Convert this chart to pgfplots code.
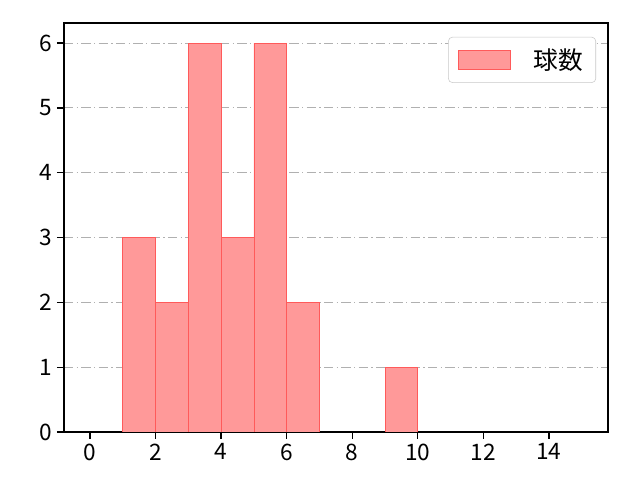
\documentclass[border=0pt]{standalone}
\usepackage{fontspec}
\setmainfont{Noto Sans CJK JP}
\usepackage{pgfplots}
\pgfplotsset{compat=1.18}
\usetikzlibrary{calc}
\definecolor{barfill}{RGB}{255,153,153}
\definecolor{baredge}{RGB}{255,90,90}
\definecolor{gridgray}{RGB}{176,176,176}
\begin{document}
\begin{tikzpicture}
  \begin{axis}[
    name=ax,
    scale only axis,
    width=408pt, height=306.75pt,
    xmin=-0.79, xmax=15.8,
    ymin=0, ymax=6.31,
    xtick={0,2,...,14},
    ytick={0,1,...,6},
    xtick pos=left, ytick pos=left,
    tick align=outside,
    major tick length=5.25pt,
    tick style={black, line width=0.9pt},
    axis line style={line width=1pt},
    ymajorgrids,
    grid style={gridgray, line width=0.7pt, dash pattern=on 7pt off 2.5pt on 1pt off 2.5pt},
    tick label style={font=\fontsize{17}{19}\selectfont},
    /pgf/number format/assume math mode=true,
    legend style={
      at={(0.978,0.966)}, anchor=north east,
      draw=gridgray!70, rounded corners=3pt,
      font=\fontsize{18.5}{20}\selectfont,
      inner xsep=7.5pt, inner ysep=6.5pt,
    },
    legend image code/.code={
      \draw[#1, sharp corners] (0pt,-7pt) rectangle (39pt,7pt);
      \path (54pt,0pt);
    },
  ]
    \addplot[ybar interval, fill=barfill, draw=baredge, line width=0.5pt]
      coordinates {(1,3) (2,2) (3,6) (4,3) (5,6) (6,2) (7,2)};
    \addlegendentry{球数}
    \addplot[ybar interval, fill=barfill, draw=baredge, line width=0.5pt, forget plot]
      coordinates {(9,1) (10,1)};
  \end{axis}
  \path[use as bounding box] ($(ax.south west)+(-48pt,-36pt)$) rectangle ($(ax.north east)+(24pt,17.25pt)$);
\end{tikzpicture}
\end{document}
